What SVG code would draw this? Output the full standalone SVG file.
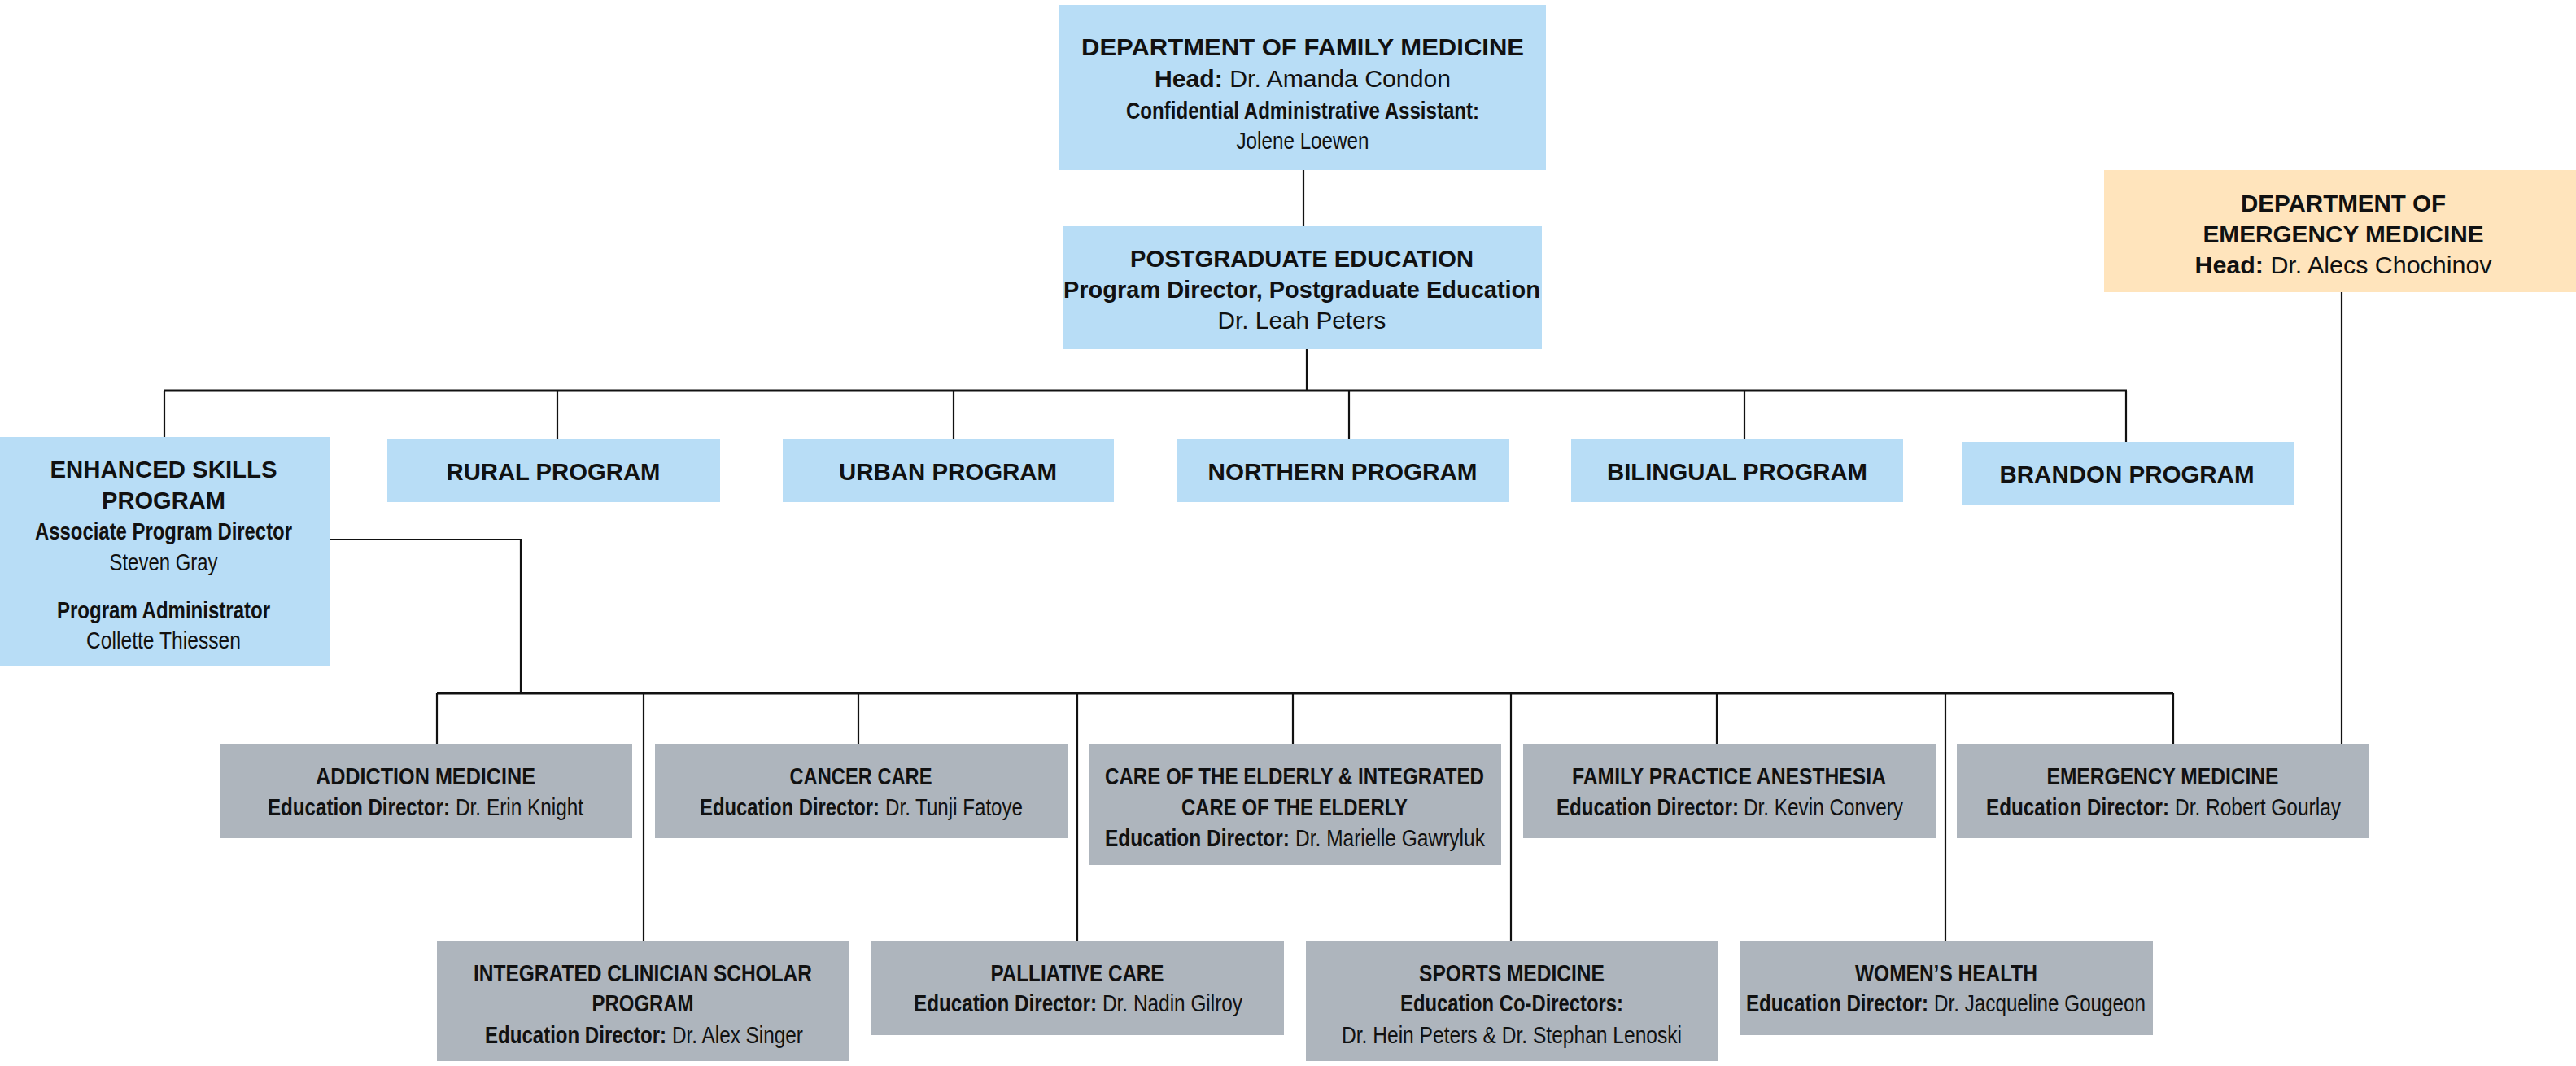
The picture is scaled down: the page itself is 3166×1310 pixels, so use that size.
<svg xmlns="http://www.w3.org/2000/svg" width="3166" height="1310" viewBox="0 0 3166 1310">
<style>
.blue{fill:#B8DDF6}
.beige{fill:#FFE4BC}
.gray{fill:#AEB5BD}
text{font-family:"Liberation Sans",Arial,sans-serif;font-size:30px;fill:#111;text-anchor:middle}
.nar{font-size:29px}
.s{text-anchor:start}
.b{font-weight:bold}
.ln{stroke:#111;stroke-width:2.2;fill:none}
.hl{stroke:#111;stroke-width:3;fill:none}
</style>
<rect width="3166" height="1310" fill="#fff"/>
<g id="connectors">
<path class="ln" d="M1602,209V278"/>
<path class="ln" d="M1606,429V480"/>
<path class="hl" d="M202,480H2614"/>
<path class="ln" d="M202,480V537M685,480V540M1172,480V540M1658,480V540M2144,480V540M2613,480V543"/>
<path class="ln" d="M405,663H640V852"/>
<path class="hl" d="M537,852H2671"/>
<path class="ln" d="M537,852V914M791,852V1156M1055,852V914M1324,852V1156M1589,852V914M1857,852V1156M2110,852V914M2391,852V1156M2671,852V914"/>
<path class="ln" d="M2878,359V914"/>
</g>
<g id="dept-family-medicine">
<rect class="blue" x="1302" y="6" width="598" height="203"/>
<text class="b" x="1601" y="68" textLength="544" lengthAdjust="spacingAndGlyphs">DEPARTMENT OF FAMILY MEDICINE</text>
<text x="1601" y="107" textLength="364" lengthAdjust="spacingAndGlyphs"><tspan class="b">Head:</tspan> Dr. Amanda Condon</text>
<text class="b" x="1601" y="146" textLength="434" lengthAdjust="spacingAndGlyphs">Confidential Administrative Assistant:</text>
<text x="1601" y="183" textLength="163" lengthAdjust="spacingAndGlyphs">Jolene Loewen</text>
</g>
<g id="postgraduate-education">
<rect class="blue" x="1306" y="278" width="589" height="151"/>
<text class="b" x="1600" y="328" textLength="422" lengthAdjust="spacingAndGlyphs">POSTGRADUATE EDUCATION</text>
<text class="b" x="1600" y="366" textLength="586" lengthAdjust="spacingAndGlyphs">Program Director, Postgraduate Education</text>
<text x="1600" y="404" textLength="207" lengthAdjust="spacingAndGlyphs">Dr. Leah Peters</text>
</g>
<g id="dept-emergency-medicine">
<rect class="beige" x="2586" y="209" width="580" height="150"/>
<text class="b" x="2880" y="260" textLength="252" lengthAdjust="spacingAndGlyphs">DEPARTMENT OF</text>
<text class="b" x="2880" y="298" textLength="345" lengthAdjust="spacingAndGlyphs">EMERGENCY MEDICINE</text>
<text x="2880" y="336" textLength="365" lengthAdjust="spacingAndGlyphs"><tspan class="b">Head:</tspan> Dr. Alecs Chochinov</text>
</g>
<g id="enhanced-skills">
<rect class="blue" x="0" y="537" width="405" height="281"/>
<text class="b" x="201" y="587" textLength="279" lengthAdjust="spacingAndGlyphs">ENHANCED SKILLS</text>
<text class="b" x="201" y="625" textLength="152" lengthAdjust="spacingAndGlyphs">PROGRAM</text>
<text class="b nar" transform="translate(201 663) scale(.82 1)" textLength="385.4" lengthAdjust="spacingAndGlyphs">Associate Program Director</text>
<text class="nar" transform="translate(201 701) scale(.82 1)" textLength="162.2" lengthAdjust="spacingAndGlyphs">Steven Gray</text>
<text class="b nar" transform="translate(201 760) scale(.82 1)" textLength="319.5" lengthAdjust="spacingAndGlyphs">Program Administrator</text>
<text class="nar" transform="translate(201 797) scale(.82 1)" textLength="231.7" lengthAdjust="spacingAndGlyphs">Collette Thiessen</text>
</g>
<g id="rural">
<rect class="blue" x="476" y="540" width="409" height="77"/>
<text class="b" x="680" y="590" textLength="263" lengthAdjust="spacingAndGlyphs">RURAL PROGRAM</text>
</g>
<g id="urban">
<rect class="blue" x="962" y="540" width="407" height="77"/>
<text class="b" x="1165" y="590" textLength="268" lengthAdjust="spacingAndGlyphs">URBAN PROGRAM</text>
</g>
<g id="northern">
<rect class="blue" x="1446" y="540" width="409" height="77"/>
<text class="b" x="1650" y="590" textLength="331" lengthAdjust="spacingAndGlyphs">NORTHERN PROGRAM</text>
</g>
<g id="bilingual">
<rect class="blue" x="1931" y="540" width="408" height="77"/>
<text class="b" x="2135" y="590" textLength="320" lengthAdjust="spacingAndGlyphs">BILINGUAL PROGRAM</text>
</g>
<g id="brandon">
<rect class="blue" x="2411" y="543" width="408" height="77"/>
<text class="b" x="2614" y="593" textLength="313" lengthAdjust="spacingAndGlyphs">BRANDON PROGRAM</text>
</g>
<g id="addiction-medicine">
<rect class="gray" x="270" y="914" width="507" height="116"/>
<text class="b nar" transform="translate(523 964) scale(.82 1)" textLength="329.3" lengthAdjust="spacingAndGlyphs">ADDICTION MEDICINE</text>
<text class="b nar s" transform="translate(329 1002) scale(.82 1)" textLength="273.2" lengthAdjust="spacingAndGlyphs">Education Director:</text>
<text class="nar s" transform="translate(560 1002) scale(.82 1)" textLength="191.5" lengthAdjust="spacingAndGlyphs">Dr. Erin Knight</text>
</g>
<g id="cancer-care">
<rect class="gray" x="805" y="914" width="507" height="116"/>
<text class="b nar" transform="translate(1058 964) scale(.82 1)" textLength="213.4" lengthAdjust="spacingAndGlyphs">CANCER CARE</text>
<text class="b nar s" transform="translate(860 1002) scale(.82 1)" textLength="269.5" lengthAdjust="spacingAndGlyphs">Education Director:</text>
<text class="nar s" transform="translate(1088 1002) scale(.82 1)" textLength="206.1" lengthAdjust="spacingAndGlyphs">Dr. Tunji Fatoye</text>
</g>
<g id="care-of-elderly">
<rect class="gray" x="1338" y="914" width="507" height="149"/>
<text class="b nar" transform="translate(1591 964) scale(.82 1)" textLength="568.3" lengthAdjust="spacingAndGlyphs">CARE OF THE ELDERLY &amp; INTEGRATED</text>
<text class="b nar" transform="translate(1591 1002) scale(.82 1)" textLength="339" lengthAdjust="spacingAndGlyphs">CARE OF THE ELDERLY</text>
<text class="b nar s" transform="translate(1358 1040) scale(.82 1)" textLength="276.8" lengthAdjust="spacingAndGlyphs">Education Director:</text>
<text class="nar s" transform="translate(1592 1040) scale(.82 1)" textLength="284.1" lengthAdjust="spacingAndGlyphs">Dr. Marielle Gawryluk</text>
</g>
<g id="family-practice-anesthesia">
<rect class="gray" x="1872" y="914" width="507" height="116"/>
<text class="b nar" transform="translate(2125 964) scale(.82 1)" textLength="470.7" lengthAdjust="spacingAndGlyphs">FAMILY PRACTICE ANESTHESIA</text>
<text class="b nar s" transform="translate(1913 1002) scale(.82 1)" textLength="273.2" lengthAdjust="spacingAndGlyphs">Education Director:</text>
<text class="nar s" transform="translate(2143 1002) scale(.82 1)" textLength="239" lengthAdjust="spacingAndGlyphs">Dr. Kevin Convery</text>
</g>
<g id="emergency-medicine">
<rect class="gray" x="2405" y="914" width="507" height="116"/>
<text class="b nar" transform="translate(2658 964) scale(.82 1)" textLength="347.6" lengthAdjust="spacingAndGlyphs">EMERGENCY MEDICINE</text>
<text class="b nar s" transform="translate(2441 1002) scale(.82 1)" textLength="274.4" lengthAdjust="spacingAndGlyphs">Education Director:</text>
<text class="nar s" transform="translate(2673 1002) scale(.82 1)" textLength="248.8" lengthAdjust="spacingAndGlyphs">Dr. Robert Gourlay</text>
</g>
<g id="integrated-clinician-scholar">
<rect class="gray" x="537" y="1156" width="506" height="148"/>
<text class="b nar" transform="translate(790 1206) scale(.82 1)" textLength="507.3" lengthAdjust="spacingAndGlyphs">INTEGRATED CLINICIAN SCHOLAR</text>
<text class="b nar" transform="translate(790 1243) scale(.82 1)" textLength="152.4" lengthAdjust="spacingAndGlyphs">PROGRAM</text>
<text class="b nar s" transform="translate(596 1282) scale(.82 1)" textLength="272" lengthAdjust="spacingAndGlyphs">Education Director:</text>
<text class="nar s" transform="translate(826 1282) scale(.82 1)" textLength="196.3" lengthAdjust="spacingAndGlyphs">Dr. Alex Singer</text>
</g>
<g id="palliative-care">
<rect class="gray" x="1071" y="1156" width="507" height="116"/>
<text class="b nar" transform="translate(1324 1206) scale(.82 1)" textLength="259.8" lengthAdjust="spacingAndGlyphs">PALLIATIVE CARE</text>
<text class="b nar s" transform="translate(1123 1243) scale(.82 1)" textLength="274.4" lengthAdjust="spacingAndGlyphs">Education Director:</text>
<text class="nar s" transform="translate(1355 1243) scale(.82 1)" textLength="209.8" lengthAdjust="spacingAndGlyphs">Dr. Nadin Gilroy</text>
</g>
<g id="sports-medicine">
<rect class="gray" x="1605" y="1156" width="507" height="148"/>
<text class="b nar" transform="translate(1858 1206) scale(.82 1)" textLength="278" lengthAdjust="spacingAndGlyphs">SPORTS MEDICINE</text>
<text class="b nar" transform="translate(1858 1243) scale(.82 1)" textLength="334.1" lengthAdjust="spacingAndGlyphs">Education Co-Directors:</text>
<text class="nar" transform="translate(1858 1282) scale(.82 1)" textLength="509.8" lengthAdjust="spacingAndGlyphs">Dr. Hein Peters &amp; Dr. Stephan Lenoski</text>
</g>
<g id="womens-health">
<rect class="gray" x="2139" y="1156" width="507" height="116"/>
<text class="b nar" transform="translate(2392 1206) scale(.82 1)" textLength="273.2" lengthAdjust="spacingAndGlyphs">WOMEN’S HEALTH</text>
<text class="b nar s" transform="translate(2146 1243) scale(.82 1)" textLength="273.2" lengthAdjust="spacingAndGlyphs">Education Director:</text>
<text class="nar s" transform="translate(2377 1243) scale(.82 1)" textLength="317.1" lengthAdjust="spacingAndGlyphs">Dr. Jacqueline Gougeon</text>
</g>
</svg>
